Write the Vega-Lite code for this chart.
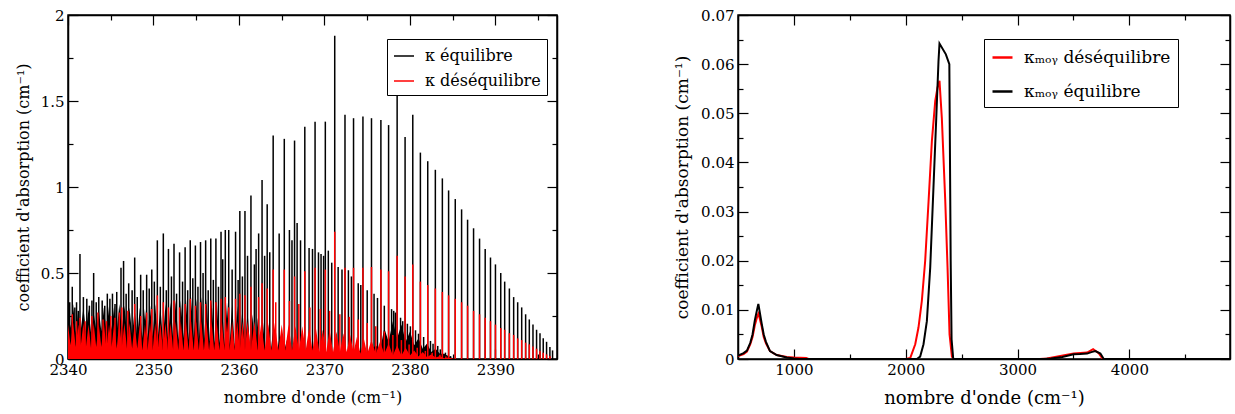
{
  "$schema": "https://vega.github.io/schema/vega-lite/v6.json",
  "padding": {"left": 14, "top": 7, "right": 0, "bottom": 0},
  "spacing": 113,
  "datasets": {
    "lines": [
      {"x":2340.2,"y":0.33,"s":"eq"},{"x":2340.5,"y":0.42,"s":"eq"},{"x":2340.8,"y":0.30,"s":"eq"},{"x":2341.0,"y":0.33,"s":"eq"},{"x":2341.2,"y":0.28,"s":"eq"},{"x":2341.4,"y":0.61,"s":"eq"},{"x":2341.8,"y":0.36,"s":"eq"},{"x":2342.2,"y":0.35,"s":"eq"},{"x":2342.5,"y":0.31,"s":"eq"},{"x":2342.8,"y":0.34,"s":"eq"},
      {"x":2343.0,"y":0.50,"s":"eq"},{"x":2343.3,"y":0.33,"s":"eq"},{"x":2343.6,"y":0.36,"s":"eq"},{"x":2344.0,"y":0.34,"s":"eq"},{"x":2344.3,"y":0.31,"s":"eq"},{"x":2344.6,"y":0.38,"s":"eq"},{"x":2344.9,"y":0.35,"s":"eq"},{"x":2345.2,"y":0.38,"s":"eq"},{"x":2345.5,"y":0.32,"s":"eq"},{"x":2345.7,"y":0.39,"s":"eq"},
      {"x":2346.2,"y":0.53,"s":"eq"},{"x":2346.5,"y":0.57,"s":"eq"},{"x":2346.8,"y":0.38,"s":"eq"},{"x":2347.1,"y":0.44,"s":"eq"},{"x":2347.5,"y":0.40,"s":"eq"},{"x":2347.8,"y":0.59,"s":"eq"},{"x":2348.1,"y":0.36,"s":"eq"},{"x":2348.5,"y":0.49,"s":"eq"},{"x":2348.8,"y":0.40,"s":"eq"},{"x":2349.2,"y":0.49,"s":"eq"},
      {"x":2349.5,"y":0.41,"s":"eq"},{"x":2349.8,"y":0.52,"s":"eq"},{"x":2350.1,"y":0.45,"s":"eq"},{"x":2350.45,"y":0.69,"s":"eq"},{"x":2350.8,"y":0.42,"s":"eq"},{"x":2351.15,"y":0.73,"s":"eq"},{"x":2351.5,"y":0.40,"s":"eq"},{"x":2351.75,"y":0.64,"s":"eq"},{"x":2352.1,"y":0.48,"s":"eq"},{"x":2352.4,"y":0.67,"s":"eq"},
      {"x":2352.7,"y":0.38,"s":"eq"},{"x":2353.05,"y":0.62,"s":"eq"},{"x":2353.4,"y":0.45,"s":"eq"},{"x":2353.7,"y":0.65,"s":"eq"},{"x":2354.0,"y":0.40,"s":"eq"},{"x":2354.3,"y":0.69,"s":"eq"},{"x":2354.6,"y":0.47,"s":"eq"},{"x":2354.9,"y":0.66,"s":"eq"},{"x":2355.2,"y":0.42,"s":"eq"},{"x":2355.5,"y":0.68,"s":"eq"},
      {"x":2355.8,"y":0.50,"s":"eq"},{"x":2356.1,"y":0.69,"s":"eq"},{"x":2356.4,"y":0.40,"s":"eq"},{"x":2356.7,"y":0.70,"s":"eq"},{"x":2357.0,"y":0.46,"s":"eq"},{"x":2357.3,"y":0.70,"s":"eq"},{"x":2357.6,"y":0.42,"s":"eq"},{"x":2357.9,"y":0.74,"s":"eq"},{"x":2358.1,"y":0.58,"s":"eq"},{"x":2358.4,"y":0.75,"s":"eq"},
      {"x":2358.8,"y":0.75,"s":"eq"},{"x":2359.2,"y":0.52,"s":"eq"},{"x":2359.6,"y":0.74,"s":"eq"},{"x":2359.9,"y":0.46,"s":"eq"},{"x":2360.1,"y":0.86,"s":"eq"},{"x":2360.4,"y":0.48,"s":"eq"},{"x":2360.7,"y":0.86,"s":"eq"},{"x":2361.0,"y":0.60,"s":"eq"},{"x":2361.4,"y":0.95,"s":"eq"},{"x":2361.8,"y":0.55,"s":"eq"},
      {"x":2362.0,"y":0.64,"s":"eq"},{"x":2362.3,"y":0.73,"s":"eq"},{"x":2362.7,"y":1.04,"s":"eq"},{"x":2363.0,"y":0.60,"s":"eq"},{"x":2363.3,"y":0.90,"s":"eq"},{"x":2363.6,"y":0.62,"s":"eq"},
      {"x":2364.0,"y":1.30,"s":"eq"},{"x":2364.7,"y":0.73,"s":"eq"},{"x":2365.3,"y":1.28,"s":"eq"},{"x":2365.9,"y":0.75,"s":"eq"},{"x":2366.2,"y":0.69,"s":"eq"},{"x":2366.5,"y":1.27,"s":"eq"},{"x":2366.8,"y":0.79,"s":"eq"},{"x":2367.2,"y":0.69,"s":"eq"},{"x":2367.7,"y":1.35,"s":"eq"},{"x":2368.2,"y":0.645,"s":"eq"},
      {"x":2368.6,"y":0.64,"s":"eq"},{"x":2368.9,"y":1.38,"s":"eq"},{"x":2369.3,"y":0.62,"s":"eq"},{"x":2369.6,"y":0.61,"s":"eq"},{"x":2369.9,"y":0.60,"s":"eq"},{"x":2370.1,"y":1.38,"s":"eq"},{"x":2370.45,"y":0.63,"s":"eq"},{"x":2370.85,"y":0.56,"s":"eq"},{"x":2371.2,"y":1.88,"s":"eq"},{"x":2371.6,"y":0.535,"s":"eq"},
      {"x":2372.05,"y":0.52,"s":"eq"},{"x":2372.4,"y":1.42,"s":"eq"},{"x":2372.8,"y":0.516,"s":"eq"},{"x":2373.15,"y":0.48,"s":"eq"},{"x":2373.4,"y":1.40,"s":"eq"},{"x":2373.95,"y":0.44,"s":"eq"},{"x":2374.25,"y":0.43,"s":"eq"},{"x":2374.5,"y":1.41,"s":"eq"},{"x":2375.0,"y":0.40,"s":"eq"},{"x":2375.5,"y":1.40,"s":"eq"},
      {"x":2375.8,"y":0.38,"s":"eq"},{"x":2376.2,"y":0.355,"s":"eq"},{"x":2376.6,"y":1.39,"s":"eq"},{"x":2377.0,"y":0.31,"s":"eq"},{"x":2377.5,"y":1.36,"s":"eq"},{"x":2377.85,"y":0.29,"s":"eq"},{"x":2378.1,"y":0.28,"s":"eq"},{"x":2378.3,"y":0.27,"s":"eq"},{"x":2378.5,"y":1.60,"s":"eq"},{"x":2378.9,"y":0.24,"s":"eq"},
      {"x":2379.15,"y":0.22,"s":"eq"},{"x":2379.43,"y":1.29,"s":"eq"},{"x":2379.7,"y":0.205,"s":"eq"},{"x":2380.05,"y":0.19,"s":"eq"},{"x":2380.33,"y":1.42,"s":"eq"},{"x":2380.65,"y":0.167,"s":"eq"},{"x":2381.0,"y":0.147,"s":"eq"},{"x":2381.22,"y":1.20,"s":"eq"},{"x":2381.6,"y":0.128,"s":"eq"},{"x":2382.08,"y":1.15,"s":"eq"},
      {"x":2382.4,"y":0.105,"s":"eq"},{"x":2382.7,"y":0.089,"s":"eq"},{"x":2382.97,"y":1.10,"s":"eq"},{"x":2383.25,"y":0.076,"s":"eq"},{"x":2383.55,"y":0.056,"s":"eq"},{"x":2383.79,"y":1.05,"s":"eq"},{"x":2384.15,"y":0.037,"s":"eq"},{"x":2384.52,"y":0.98,"s":"eq"},{"x":2384.75,"y":0.017,"s":"eq"},{"x":2384.95,"y":0.006,"s":"eq"},
      {"x":2385.30,"y":0.93,"s":"eq"},{"x":2386.04,"y":0.87,"s":"eq"},{"x":2386.74,"y":0.81,"s":"eq"},{"x":2387.44,"y":0.76,"s":"eq"},{"x":2388.14,"y":0.70,"s":"eq"},{"x":2388.80,"y":0.64,"s":"eq"},{"x":2389.42,"y":0.59,"s":"eq"},{"x":2390.0,"y":0.55,"s":"eq"},{"x":2390.62,"y":0.50,"s":"eq"},{"x":2391.08,"y":0.45,"s":"eq"},
      {"x":2391.63,"y":0.41,"s":"eq"},{"x":2392.13,"y":0.36,"s":"eq"},{"x":2392.60,"y":0.33,"s":"eq"},{"x":2393.07,"y":0.30,"s":"eq"},{"x":2393.53,"y":0.26,"s":"eq"},{"x":2393.96,"y":0.23,"s":"eq"},{"x":2394.39,"y":0.20,"s":"eq"},{"x":2394.81,"y":0.17,"s":"eq"},{"x":2395.21,"y":0.15,"s":"eq"},{"x":2395.59,"y":0.12,"s":"eq"},
      {"x":2395.98,"y":0.10,"s":"eq"},{"x":2396.37,"y":0.07,"s":"eq"},{"x":2396.68,"y":0.05,"s":"eq"},

      {"x":2340.5,"y":0.26,"s":"dq"},{"x":2341.0,"y":0.22,"s":"dq"},{"x":2341.4,"y":0.24,"s":"dq"},{"x":2342.0,"y":0.22,"s":"dq"},{"x":2342.8,"y":0.25,"s":"dq"},{"x":2343.5,"y":0.27,"s":"dq"},{"x":2344.1,"y":0.23,"s":"dq"},{"x":2344.5,"y":0.22,"s":"dq"},{"x":2345.0,"y":0.25,"s":"dq"},{"x":2345.5,"y":0.24,"s":"dq"},
      {"x":2346.0,"y":0.27,"s":"dq"},{"x":2346.3,"y":0.30,"s":"dq"},{"x":2347.0,"y":0.28,"s":"dq"},{"x":2347.8,"y":0.32,"s":"dq"},{"x":2348.5,"y":0.25,"s":"dq"},{"x":2349.2,"y":0.27,"s":"dq"},{"x":2349.8,"y":0.29,"s":"dq"},{"x":2350.45,"y":0.37,"s":"dq"},{"x":2351.15,"y":0.33,"s":"dq"},{"x":2351.75,"y":0.30,"s":"dq"},
      {"x":2352.4,"y":0.34,"s":"dq"},{"x":2353.05,"y":0.30,"s":"dq"},{"x":2353.7,"y":0.32,"s":"dq"},{"x":2354.3,"y":0.35,"s":"dq"},{"x":2354.9,"y":0.31,"s":"dq"},{"x":2355.5,"y":0.33,"s":"dq"},{"x":2356.1,"y":0.32,"s":"dq"},{"x":2356.7,"y":0.34,"s":"dq"},{"x":2357.3,"y":0.33,"s":"dq"},{"x":2357.9,"y":0.35,"s":"dq"},
      {"x":2358.4,"y":0.36,"s":"dq"},{"x":2358.8,"y":0.30,"s":"dq"},{"x":2359.6,"y":0.35,"s":"dq"},{"x":2360.1,"y":0.38,"s":"dq"},{"x":2360.7,"y":0.37,"s":"dq"},{"x":2361.4,"y":0.42,"s":"dq"},{"x":2362.3,"y":0.36,"s":"dq"},{"x":2362.7,"y":0.44,"s":"dq"},{"x":2363.3,"y":0.41,"s":"dq"},
      {"x":2364.0,"y":0.52,"s":"dq"},{"x":2364.3,"y":0.33,"s":"dq"},{"x":2365.3,"y":0.52,"s":"dq"},{"x":2365.9,"y":0.337,"s":"dq"},{"x":2366.5,"y":0.48,"s":"dq"},{"x":2367.0,"y":0.32,"s":"dq"},{"x":2367.7,"y":0.51,"s":"dq"},{"x":2368.3,"y":0.30,"s":"dq"},{"x":2368.9,"y":0.53,"s":"dq"},{"x":2369.5,"y":0.29,"s":"dq"},
      {"x":2370.1,"y":0.52,"s":"dq"},{"x":2370.6,"y":0.28,"s":"dq"},{"x":2371.2,"y":0.74,"s":"dq"},{"x":2371.8,"y":0.26,"s":"dq"},{"x":2372.4,"y":0.53,"s":"dq"},{"x":2372.9,"y":0.245,"s":"dq"},{"x":2373.4,"y":0.53,"s":"dq"},{"x":2373.95,"y":0.23,"s":"dq"},{"x":2374.5,"y":0.53,"s":"dq"},{"x":2375.0,"y":0.21,"s":"dq"},
      {"x":2375.5,"y":0.535,"s":"dq"},{"x":2376.0,"y":0.19,"s":"dq"},{"x":2376.6,"y":0.52,"s":"dq"},{"x":2377.0,"y":0.16,"s":"dq"},{"x":2377.5,"y":0.51,"s":"dq"},{"x":2378.0,"y":0.14,"s":"dq"},{"x":2378.5,"y":0.60,"s":"dq"},{"x":2379.0,"y":0.11,"s":"dq"},{"x":2379.43,"y":0.48,"s":"dq"},{"x":2379.9,"y":0.085,"s":"dq"},
      {"x":2380.33,"y":0.55,"s":"dq"},{"x":2380.85,"y":0.066,"s":"dq"},{"x":2381.22,"y":0.45,"s":"dq"},{"x":2381.8,"y":0.047,"s":"dq"},{"x":2382.08,"y":0.43,"s":"dq"},{"x":2382.6,"y":0.037,"s":"dq"},{"x":2382.97,"y":0.41,"s":"dq"},{"x":2383.5,"y":0.025,"s":"dq"},{"x":2383.79,"y":0.39,"s":"dq"},{"x":2384.2,"y":0.015,"s":"dq"},
      {"x":2384.52,"y":0.37,"s":"dq"},{"x":2385.30,"y":0.35,"s":"dq"},{"x":2386.04,"y":0.33,"s":"dq"},{"x":2386.74,"y":0.31,"s":"dq"},{"x":2387.44,"y":0.28,"s":"dq"},{"x":2388.14,"y":0.26,"s":"dq"},{"x":2388.80,"y":0.24,"s":"dq"},{"x":2389.42,"y":0.22,"s":"dq"},{"x":2390.0,"y":0.20,"s":"dq"},{"x":2390.62,"y":0.18,"s":"dq"},
      {"x":2391.08,"y":0.17,"s":"dq"},{"x":2391.63,"y":0.15,"s":"dq"},{"x":2392.13,"y":0.14,"s":"dq"},{"x":2392.60,"y":0.12,"s":"dq"},{"x":2393.07,"y":0.11,"s":"dq"},{"x":2393.53,"y":0.095,"s":"dq"},{"x":2393.96,"y":0.085,"s":"dq"},{"x":2394.39,"y":0.072,"s":"dq"},{"x":2394.81,"y":0.06,"s":"dq"},{"x":2395.21,"y":0.047,"s":"dq"},
      {"x":2395.59,"y":0.037,"s":"dq"},{"x":2395.98,"y":0.027,"s":"dq"},{"x":2396.37,"y":0.017,"s":"dq"}
    ],
    "floor": [
      {"x":2340,"y":0.28,"s":"eq"},{"x":2340.3,"y":0.18,"s":"eq"},{"x":2340.6,"y":0.32,"s":"eq"},{"x":2340.9,"y":0.15,"s":"eq"},{"x":2341.2,"y":0.28,"s":"eq"},{"x":2341.5,"y":0.17,"s":"eq"},{"x":2341.8,"y":0.30,"s":"eq"},{"x":2342.1,"y":0.16,"s":"eq"},{"x":2342.4,"y":0.29,"s":"eq"},{"x":2342.7,"y":0.15,"s":"eq"},
      {"x":2343,"y":0.27,"s":"eq"},{"x":2343.3,"y":0.17,"s":"eq"},{"x":2343.6,"y":0.29,"s":"eq"},{"x":2343.9,"y":0.16,"s":"eq"},{"x":2344.2,"y":0.30,"s":"eq"},{"x":2344.5,"y":0.16,"s":"eq"},{"x":2344.8,"y":0.31,"s":"eq"},{"x":2345.1,"y":0.17,"s":"eq"},{"x":2345.4,"y":0.31,"s":"eq"},{"x":2345.7,"y":0.16,"s":"eq"},
      {"x":2346,"y":0.32,"s":"eq"},{"x":2346.3,"y":0.17,"s":"eq"},{"x":2346.6,"y":0.31,"s":"eq"},{"x":2346.9,"y":0.15,"s":"eq"},{"x":2347.2,"y":0.30,"s":"eq"},{"x":2347.5,"y":0.14,"s":"eq"},{"x":2347.8,"y":0.29,"s":"eq"},{"x":2348.1,"y":0.13,"s":"eq"},{"x":2348.4,"y":0.30,"s":"eq"},{"x":2348.7,"y":0.12,"s":"eq"},
      {"x":2349,"y":0.29,"s":"eq"},{"x":2349.3,"y":0.12,"s":"eq"},{"x":2349.6,"y":0.31,"s":"eq"},{"x":2349.9,"y":0.13,"s":"eq"},{"x":2350.2,"y":0.32,"s":"eq"},{"x":2350.5,"y":0.12,"s":"eq"},{"x":2350.8,"y":0.31,"s":"eq"},{"x":2351.1,"y":0.11,"s":"eq"},{"x":2351.4,"y":0.32,"s":"eq"},{"x":2351.7,"y":0.12,"s":"eq"},
      {"x":2352,"y":0.33,"s":"eq"},{"x":2352.3,"y":0.12,"s":"eq"},{"x":2352.6,"y":0.34,"s":"eq"},{"x":2352.9,"y":0.11,"s":"eq"},{"x":2353.2,"y":0.34,"s":"eq"},{"x":2353.5,"y":0.12,"s":"eq"},{"x":2353.8,"y":0.35,"s":"eq"},{"x":2354.1,"y":0.11,"s":"eq"},{"x":2354.4,"y":0.36,"s":"eq"},{"x":2354.7,"y":0.12,"s":"eq"},
      {"x":2355,"y":0.35,"s":"eq"},{"x":2355.3,"y":0.11,"s":"eq"},{"x":2355.6,"y":0.36,"s":"eq"},{"x":2355.9,"y":0.10,"s":"eq"},{"x":2356.2,"y":0.35,"s":"eq"},{"x":2356.5,"y":0.10,"s":"eq"},{"x":2356.8,"y":0.34,"s":"eq"},{"x":2357.1,"y":0.09,"s":"eq"},{"x":2357.4,"y":0.34,"s":"eq"},{"x":2357.7,"y":0.09,"s":"eq"},
      {"x":2358,"y":0.33,"s":"eq"},{"x":2358.3,"y":0.08,"s":"eq"},{"x":2358.6,"y":0.33,"s":"eq"},{"x":2358.9,"y":0.08,"s":"eq"},{"x":2359.2,"y":0.32,"s":"eq"},{"x":2359.5,"y":0.07,"s":"eq"},{"x":2359.8,"y":0.31,"s":"eq"},{"x":2360.1,"y":0.07,"s":"eq"},{"x":2360.4,"y":0.30,"s":"eq"},{"x":2360.7,"y":0.06,"s":"eq"},
      {"x":2361,"y":0.28,"s":"eq"},{"x":2361.3,"y":0.06,"s":"eq"},{"x":2361.6,"y":0.26,"s":"eq"},{"x":2361.9,"y":0.05,"s":"eq"},{"x":2362.2,"y":0.24,"s":"eq"},{"x":2362.5,"y":0.05,"s":"eq"},{"x":2362.8,"y":0.22,"s":"eq"},{"x":2363.1,"y":0.04,"s":"eq"},{"x":2363.4,"y":0.20,"s":"eq"},{"x":2363.7,"y":0.04,"s":"eq"},
      {"x":2364,"y":0.17,"s":"eq"},{"x":2364.4,"y":0.03,"s":"eq"},{"x":2364.8,"y":0.14,"s":"eq"},{"x":2365.2,"y":0.03,"s":"eq"},{"x":2365.6,"y":0.11,"s":"eq"},{"x":2366,"y":0.02,"s":"eq"},{"x":2366.4,"y":0.09,"s":"eq"},{"x":2366.8,"y":0.02,"s":"eq"},{"x":2367.2,"y":0.07,"s":"eq"},{"x":2367.6,"y":0.02,"s":"eq"},
      {"x":2368,"y":0.05,"s":"eq"},{"x":2369,"y":0.02,"s":"eq"},{"x":2370,"y":0.04,"s":"eq"},{"x":2371,"y":0.02,"s":"eq"},{"x":2372,"y":0.04,"s":"eq"},{"x":2373,"y":0.02,"s":"eq"},{"x":2374,"y":0.05,"s":"eq"},{"x":2375,"y":0.03,"s":"eq"},{"x":2376,"y":0.08,"s":"eq"},{"x":2376.5,"y":0.05,"s":"eq"},
      {"x":2377,"y":0.18,"s":"eq"},{"x":2377.5,"y":0.10,"s":"eq"},{"x":2378,"y":0.22,"s":"eq"},{"x":2378.5,"y":0.12,"s":"eq"},{"x":2379,"y":0.20,"s":"eq"},{"x":2379.5,"y":0.10,"s":"eq"},{"x":2380,"y":0.16,"s":"eq"},{"x":2380.5,"y":0.08,"s":"eq"},{"x":2381,"y":0.12,"s":"eq"},{"x":2381.5,"y":0.06,"s":"eq"},
      {"x":2382,"y":0.09,"s":"eq"},{"x":2382.5,"y":0.04,"s":"eq"},{"x":2383,"y":0.06,"s":"eq"},{"x":2383.5,"y":0.03,"s":"eq"},{"x":2384,"y":0.03,"s":"eq"},{"x":2384.8,"y":0.008,"s":"eq"},{"x":2385.2,"y":0,"s":"eq"},{"x":2397.2,"y":0,"s":"eq"},

      {"x":2340,"y":0.20,"s":"dq"},{"x":2340.3,"y":0.08,"s":"dq"},{"x":2340.6,"y":0.21,"s":"dq"},{"x":2340.9,"y":0.07,"s":"dq"},{"x":2341.2,"y":0.20,"s":"dq"},{"x":2341.5,"y":0.08,"s":"dq"},{"x":2341.8,"y":0.21,"s":"dq"},{"x":2342.1,"y":0.07,"s":"dq"},{"x":2342.4,"y":0.20,"s":"dq"},{"x":2342.7,"y":0.06,"s":"dq"},
      {"x":2343,"y":0.21,"s":"dq"},{"x":2343.3,"y":0.07,"s":"dq"},{"x":2343.6,"y":0.20,"s":"dq"},{"x":2343.9,"y":0.07,"s":"dq"},{"x":2344.2,"y":0.21,"s":"dq"},{"x":2344.5,"y":0.06,"s":"dq"},{"x":2344.8,"y":0.20,"s":"dq"},{"x":2345.1,"y":0.07,"s":"dq"},{"x":2345.4,"y":0.21,"s":"dq"},{"x":2345.7,"y":0.06,"s":"dq"},
      {"x":2346,"y":0.22,"s":"dq"},{"x":2346.3,"y":0.07,"s":"dq"},{"x":2346.6,"y":0.21,"s":"dq"},{"x":2346.9,"y":0.06,"s":"dq"},{"x":2347.2,"y":0.21,"s":"dq"},{"x":2347.5,"y":0.06,"s":"dq"},{"x":2347.8,"y":0.20,"s":"dq"},{"x":2348.1,"y":0.06,"s":"dq"},{"x":2348.4,"y":0.20,"s":"dq"},{"x":2348.7,"y":0.05,"s":"dq"},
      {"x":2349,"y":0.20,"s":"dq"},{"x":2349.3,"y":0.05,"s":"dq"},{"x":2349.6,"y":0.21,"s":"dq"},{"x":2349.9,"y":0.05,"s":"dq"},{"x":2350.2,"y":0.21,"s":"dq"},{"x":2350.5,"y":0.05,"s":"dq"},{"x":2350.8,"y":0.21,"s":"dq"},{"x":2351.1,"y":0.05,"s":"dq"},{"x":2351.4,"y":0.21,"s":"dq"},{"x":2351.7,"y":0.05,"s":"dq"},
      {"x":2352,"y":0.21,"s":"dq"},{"x":2352.3,"y":0.05,"s":"dq"},{"x":2352.6,"y":0.22,"s":"dq"},{"x":2352.9,"y":0.05,"s":"dq"},{"x":2353.2,"y":0.22,"s":"dq"},{"x":2353.5,"y":0.05,"s":"dq"},{"x":2353.8,"y":0.22,"s":"dq"},{"x":2354.1,"y":0.05,"s":"dq"},{"x":2354.4,"y":0.22,"s":"dq"},{"x":2354.7,"y":0.05,"s":"dq"},
      {"x":2355,"y":0.22,"s":"dq"},{"x":2355.3,"y":0.05,"s":"dq"},{"x":2355.6,"y":0.22,"s":"dq"},{"x":2355.9,"y":0.05,"s":"dq"},{"x":2356.2,"y":0.22,"s":"dq"},{"x":2356.5,"y":0.05,"s":"dq"},{"x":2356.8,"y":0.22,"s":"dq"},{"x":2357.1,"y":0.05,"s":"dq"},{"x":2357.4,"y":0.22,"s":"dq"},{"x":2357.7,"y":0.05,"s":"dq"},
      {"x":2358,"y":0.22,"s":"dq"},{"x":2358.3,"y":0.05,"s":"dq"},{"x":2358.6,"y":0.22,"s":"dq"},{"x":2358.9,"y":0.05,"s":"dq"},{"x":2359.2,"y":0.22,"s":"dq"},{"x":2359.5,"y":0.05,"s":"dq"},{"x":2359.8,"y":0.22,"s":"dq"},{"x":2360.1,"y":0.05,"s":"dq"},{"x":2360.4,"y":0.22,"s":"dq"},{"x":2360.7,"y":0.05,"s":"dq"},
      {"x":2361,"y":0.22,"s":"dq"},{"x":2361.4,"y":0.05,"s":"dq"},{"x":2361.8,"y":0.22,"s":"dq"},{"x":2362.2,"y":0.05,"s":"dq"},{"x":2362.6,"y":0.21,"s":"dq"},{"x":2363,"y":0.05,"s":"dq"},{"x":2363.4,"y":0.21,"s":"dq"},{"x":2363.8,"y":0.05,"s":"dq"},{"x":2364.2,"y":0.21,"s":"dq"},{"x":2364.6,"y":0.05,"s":"dq"},
      {"x":2365,"y":0.20,"s":"dq"},{"x":2365.4,"y":0.05,"s":"dq"},{"x":2365.8,"y":0.20,"s":"dq"},{"x":2366.2,"y":0.05,"s":"dq"},{"x":2366.6,"y":0.19,"s":"dq"},{"x":2367,"y":0.05,"s":"dq"},{"x":2367.4,"y":0.19,"s":"dq"},{"x":2367.8,"y":0.05,"s":"dq"},{"x":2368.2,"y":0.18,"s":"dq"},{"x":2368.6,"y":0.05,"s":"dq"},
      {"x":2369,"y":0.18,"s":"dq"},{"x":2369.4,"y":0.04,"s":"dq"},{"x":2369.8,"y":0.17,"s":"dq"},{"x":2370.2,"y":0.04,"s":"dq"},{"x":2370.6,"y":0.17,"s":"dq"},{"x":2371,"y":0.04,"s":"dq"},{"x":2371.4,"y":0.16,"s":"dq"},{"x":2371.8,"y":0.04,"s":"dq"},{"x":2372.2,"y":0.15,"s":"dq"},{"x":2372.6,"y":0.04,"s":"dq"},
      {"x":2373,"y":0.14,"s":"dq"},{"x":2373.4,"y":0.04,"s":"dq"},{"x":2373.8,"y":0.13,"s":"dq"},{"x":2374.2,"y":0.03,"s":"dq"},{"x":2374.6,"y":0.12,"s":"dq"},{"x":2375,"y":0.03,"s":"dq"},{"x":2375.5,"y":0.11,"s":"dq"},{"x":2376,"y":0.03,"s":"dq"},{"x":2376.5,"y":0.10,"s":"dq"},{"x":2377,"y":0.03,"s":"dq"},
      {"x":2377.5,"y":0.09,"s":"dq"},{"x":2378,"y":0.02,"s":"dq"},{"x":2378.5,"y":0.08,"s":"dq"},{"x":2379,"y":0.02,"s":"dq"},{"x":2379.5,"y":0.065,"s":"dq"},{"x":2380,"y":0.02,"s":"dq"},{"x":2380.5,"y":0.05,"s":"dq"},{"x":2381,"y":0.015,"s":"dq"},{"x":2381.5,"y":0.04,"s":"dq"},{"x":2382,"y":0.01,"s":"dq"},
      {"x":2382.5,"y":0.028,"s":"dq"},{"x":2383,"y":0.008,"s":"dq"},{"x":2383.5,"y":0.018,"s":"dq"},{"x":2384,"y":0.005,"s":"dq"},{"x":2384.5,"y":0.008,"s":"dq"},{"x":2385.2,"y":0,"s":"dq"},{"x":2397.2,"y":0,"s":"dq"}
    ],
    "avg": [
      {"x":500,"y":0.0006,"s":"dq"},{"x":550,"y":0.0010,"s":"dq"},{"x":580,"y":0.0015,"s":"dq"},{"x":610,"y":0.0030,"s":"dq"},{"x":630,"y":0.0045,"s":"dq"},{"x":650,"y":0.0068,"s":"dq"},{"x":670,"y":0.0085,"s":"dq"},{"x":682,"y":0.0092,"s":"dq"},{"x":695,"y":0.0082,"s":"dq"},{"x":712,"y":0.0066,"s":"dq"},
      {"x":730,"y":0.0045,"s":"dq"},{"x":750,"y":0.0032,"s":"dq"},{"x":786,"y":0.0016,"s":"dq"},{"x":846,"y":0.0008,"s":"dq"},{"x":936,"y":0.0004,"s":"dq"},{"x":1000,"y":0.0003,"s":"dq"},{"x":1110,"y":0.0002,"s":"dq"},{"x":1130,"y":0,"s":"dq"},{"x":2000,"y":0,"s":"dq"},{"x":2040,"y":0.0002,"s":"dq"},
      {"x":2085,"y":0.003,"s":"dq"},{"x":2114,"y":0.0064,"s":"dq"},{"x":2144,"y":0.0118,"s":"dq"},{"x":2174,"y":0.020,"s":"dq"},{"x":2204,"y":0.032,"s":"dq"},{"x":2234,"y":0.0444,"s":"dq"},{"x":2264,"y":0.0525,"s":"dq"},{"x":2284,"y":0.0552,"s":"dq"},{"x":2302,"y":0.0566,"s":"dq"},{"x":2323,"y":0.049,"s":"dq"},
      {"x":2353,"y":0.0325,"s":"dq"},{"x":2374,"y":0.0186,"s":"dq"},{"x":2392,"y":0.005,"s":"dq"},{"x":2413,"y":0.0005,"s":"dq"},{"x":2430,"y":0,"s":"dq"},{"x":3200,"y":0,"s":"dq"},{"x":3263,"y":0.0001,"s":"dq"},{"x":3382,"y":0.0006,"s":"dq"},{"x":3502,"y":0.0011,"s":"dq"},{"x":3622,"y":0.0013,"s":"dq"},
      {"x":3676,"y":0.0020,"s":"dq"},{"x":3726,"y":0.0012,"s":"dq"},{"x":3756,"y":0.0002,"s":"dq"},{"x":3770,"y":0,"s":"dq"},{"x":4900,"y":0,"s":"dq"},

      {"x":500,"y":0.0007,"s":"eq"},{"x":550,"y":0.0012,"s":"eq"},{"x":580,"y":0.0017,"s":"eq"},{"x":610,"y":0.0033,"s":"eq"},{"x":630,"y":0.0050,"s":"eq"},{"x":650,"y":0.0078,"s":"eq"},{"x":670,"y":0.0100,"s":"eq"},{"x":682,"y":0.0112,"s":"eq"},{"x":695,"y":0.0095,"s":"eq"},{"x":712,"y":0.0072,"s":"eq"},
      {"x":730,"y":0.0050,"s":"eq"},{"x":750,"y":0.0035,"s":"eq"},{"x":786,"y":0.0016,"s":"eq"},{"x":846,"y":0.0008,"s":"eq"},{"x":936,"y":0.0003,"s":"eq"},{"x":1000,"y":0.0001,"s":"eq"},{"x":1050,"y":0,"s":"eq"},{"x":2100,"y":0,"s":"eq"},{"x":2129,"y":0.0005,"s":"eq"},{"x":2159,"y":0.003,"s":"eq"},
      {"x":2189,"y":0.0077,"s":"eq"},{"x":2219,"y":0.0186,"s":"eq"},{"x":2248,"y":0.0349,"s":"eq"},{"x":2273,"y":0.049,"s":"eq"},{"x":2293,"y":0.0606,"s":"eq"},{"x":2302,"y":0.0642,"s":"eq"},{"x":2359,"y":0.062,"s":"eq"},{"x":2390,"y":0.060,"s":"eq"},{"x":2402,"y":0.020,"s":"eq"},{"x":2410,"y":0.004,"s":"eq"},
      {"x":2425,"y":0,"s":"eq"},{"x":3233,"y":0,"s":"eq"},{"x":3300,"y":0.0001,"s":"eq"},{"x":3400,"y":0.0004,"s":"eq"},{"x":3502,"y":0.00095,"s":"eq"},{"x":3560,"y":0.0010,"s":"eq"},{"x":3622,"y":0.0011,"s":"eq"},{"x":3660,"y":0.0014,"s":"eq"},{"x":3696,"y":0.0016,"s":"eq"},{"x":3741,"y":0.0011,"s":"eq"},
      {"x":3771,"y":0,"s":"eq"},{"x":4900,"y":0,"s":"eq"}
    ]
  },
  "hconcat": [
    {
      "width": 489,
      "height": 344,
      "layer": [
        {
          "data": {"name": "floor"},
          "transform": [{"filter": "datum.s == 'eq'"}],
          "mark": {"type": "area", "color": "black", "clip": true, "interpolate": "linear"},
          "encoding": {
            "x": {"field": "x", "type": "quantitative", "scale": {"domain": [2340, 2397.2], "nice": false, "zero": false},
              "axis": {"orient": "bottom", "values": [2340,2345,2350,2355,2360,2365,2370,2375,2380,2385,2390,2395], "format": "d",
                "labelExpr": "datum.value % 10 === 0 ? datum.label : ''",
                "tickSize": {"condition": {"test": "datum.value % 10 === 0", "value": -10}, "value": -5},
                "labelPadding": 13, "title": "nombre d'onde (cm⁻¹)", "titleFontSize": 16, "titlePadding": 7}},
            "y": {"field": "y", "type": "quantitative", "stack": null, "scale": {"domain": [0, 2], "nice": false},
              "axis": {"orient": "left", "values": [0,0.25,0.5,0.75,1,1.25,1.5,1.75,2], "format": "~g",
                "labelExpr": "datum.value % 0.5 === 0 ? datum.label : ''",
                "tickSize": {"condition": {"test": "datum.value % 0.5 === 0", "value": -10}, "value": -5},
                "labelPadding": 14, "title": "coefficient d'absorption (cm⁻¹)", "titleFontSize": 16, "titlePadding": 9}}
          }
        },
        {
          "data": {"name": "lines"},
          "transform": [{"filter": "datum.s == 'eq'"}],
          "mark": {"type": "rule", "strokeWidth": 1.5, "clip": true},
          "encoding": {
            "x": {"field": "x", "type": "quantitative", "axis": null},
            "y": {"field": "y", "type": "quantitative", "axis": null},
            "y2": {"datum": 0},
            "color": {"field": "s", "type": "nominal", "scale": {"domain": ["eq", "dq"], "range": ["#000000", "#ff0000"]},
              "legend": {"title": null, "orient": "none", "legendX": 319, "legendY": 24, "direction": "vertical",
                "labelExpr": "datum.value == 'eq' ? 'κ équilibre' : 'κ déséquilibre'",
                "symbolType": "stroke", "symbolSize": 400, "symbolStrokeWidth": 1.5, "labelOffset": 10, "rowPadding": 6,
                "labelFontSize": 16, "padding": 6}}
          }
        },
        {
          "data": {"name": "floor"},
          "transform": [{"filter": "datum.s == 'dq'"}],
          "mark": {"type": "area", "color": "#ff0000", "clip": true, "interpolate": "linear"},
          "encoding": {
            "x": {"field": "x", "type": "quantitative", "axis": null},
            "y": {"field": "y", "type": "quantitative", "stack": null, "axis": null}
          }
        },
        {
          "data": {"name": "lines"},
          "transform": [{"filter": "datum.s == 'dq'"}],
          "mark": {"type": "rule", "strokeWidth": 1.5, "clip": true},
          "encoding": {
            "x": {"field": "x", "type": "quantitative",
              "axis": {"orient": "top", "values": [2340,2345,2350,2355,2360,2365,2370,2375,2380,2385,2390,2395], "labels": false, "title": null,
                "tickSize": {"condition": {"test": "datum.value % 10 === 0", "value": -10}, "value": -5}}},
            "y": {"field": "y", "type": "quantitative",
              "axis": {"orient": "right", "values": [0,0.25,0.5,0.75,1,1.25,1.5,1.75,2], "labels": false, "title": null,
                "tickSize": {"condition": {"test": "datum.value % 0.5 === 0", "value": -10}, "value": -5}}},
            "y2": {"datum": 0},
            "color": {"field": "s", "type": "nominal"}
          }
        }
      ],
      "resolve": {"axis": {"x": "independent", "y": "independent"}}
    },
    {
      "width": 492,
      "height": 344,
      "layer": [
        {
          "data": {"name": "avg"},
          "transform": [{"filter": "datum.s == 'dq'"}],
          "mark": {"type": "line", "strokeWidth": 2, "clip": true},
          "encoding": {
            "x": {"field": "x", "type": "quantitative", "scale": {"domain": [500, 4900], "nice": false, "zero": false},
              "axis": {"orient": "bottom", "values": [500,1000,1500,2000,2500,3000,3500,4000,4500], "format": "d",
                "labelExpr": "datum.value % 1000 === 0 ? datum.label : ''",
                "tickSize": {"condition": {"test": "datum.value % 1000 === 0", "value": -10}, "value": -5},
                "labelPadding": 13, "title": "nombre d'onde (cm⁻¹)", "titleFontSize": 18, "titlePadding": 7}},
            "y": {"field": "y", "type": "quantitative", "scale": {"domain": [0, 0.07], "nice": false},
              "axis": {"orient": "left", "values": [0,0.005,0.01,0.015,0.02,0.025,0.03,0.035,0.04,0.045,0.05,0.055,0.06,0.065,0.07], "format": "~g",
                "labelExpr": "round(datum.value*1000) % 10 === 0 ? datum.label : ''",
                "tickSize": {"condition": {"test": "round(datum.value*1000) % 10 === 0", "value": -10}, "value": -5},
                "labelPadding": 14, "title": "coefficient d'absorption (cm⁻¹)", "titleFontSize": 17, "titlePadding": 9}},
            "color": {"field": "s", "type": "nominal", "scale": {"domain": ["dq", "eq"], "range": ["#ff0000", "#000000"]},
              "legend": {"title": null, "orient": "none", "legendX": 246, "legendY": 24, "direction": "vertical",
                "labelExpr": "datum.value == 'eq' ? 'κₘₒᵧ équilibre' : 'κₘₒᵧ déséquilibre'",
                "symbolType": "stroke", "symbolSize": 400, "symbolStrokeWidth": 2.5, "labelOffset": 10, "rowPadding": 14,
                "labelFontSize": 17, "padding": 7}}
          }
        },
        {
          "data": {"name": "avg"},
          "transform": [{"filter": "datum.s == 'eq'"}],
          "mark": {"type": "line", "strokeWidth": 2, "clip": true},
          "encoding": {
            "x": {"field": "x", "type": "quantitative",
              "axis": {"orient": "top", "values": [500,1000,1500,2000,2500,3000,3500,4000,4500], "labels": false, "title": null,
                "tickSize": {"condition": {"test": "datum.value % 1000 === 0", "value": -10}, "value": -5}}},
            "y": {"field": "y", "type": "quantitative",
              "axis": {"orient": "right", "values": [0,0.005,0.01,0.015,0.02,0.025,0.03,0.035,0.04,0.045,0.05,0.055,0.06,0.065,0.07], "labels": false, "title": null,
                "tickSize": {"condition": {"test": "round(datum.value*1000) % 10 === 0", "value": -10}, "value": -5}}},
            "color": {"field": "s", "type": "nominal"}
          }
        }
      ],
      "resolve": {"axis": {"x": "independent", "y": "independent"}}
    }
  ],
  "resolve": {"scale": {"color": "independent"}, "legend": {"color": "independent"}},
  "config": {
    "font": "DejaVu Serif",
    "view": {"stroke": "black", "strokeWidth": 1.5},
    "axis": {"grid": false, "domainColor": "black", "domainWidth": 1.5, "tickColor": "black", "tickWidth": 1.2,
      "labelFont": "DejaVu Serif", "labelFontSize": 15, "labelColor": "black", "labelFlush": false, "labelOverlap": false,
      "titleFont": "DejaVu Serif", "titleFontWeight": "normal", "titleColor": "black"},
    "legend": {"labelFont": "DejaVu Serif", "labelColor": "black", "strokeColor": "black", "fillColor": "white", "labelLimit": 400}
  }
}
